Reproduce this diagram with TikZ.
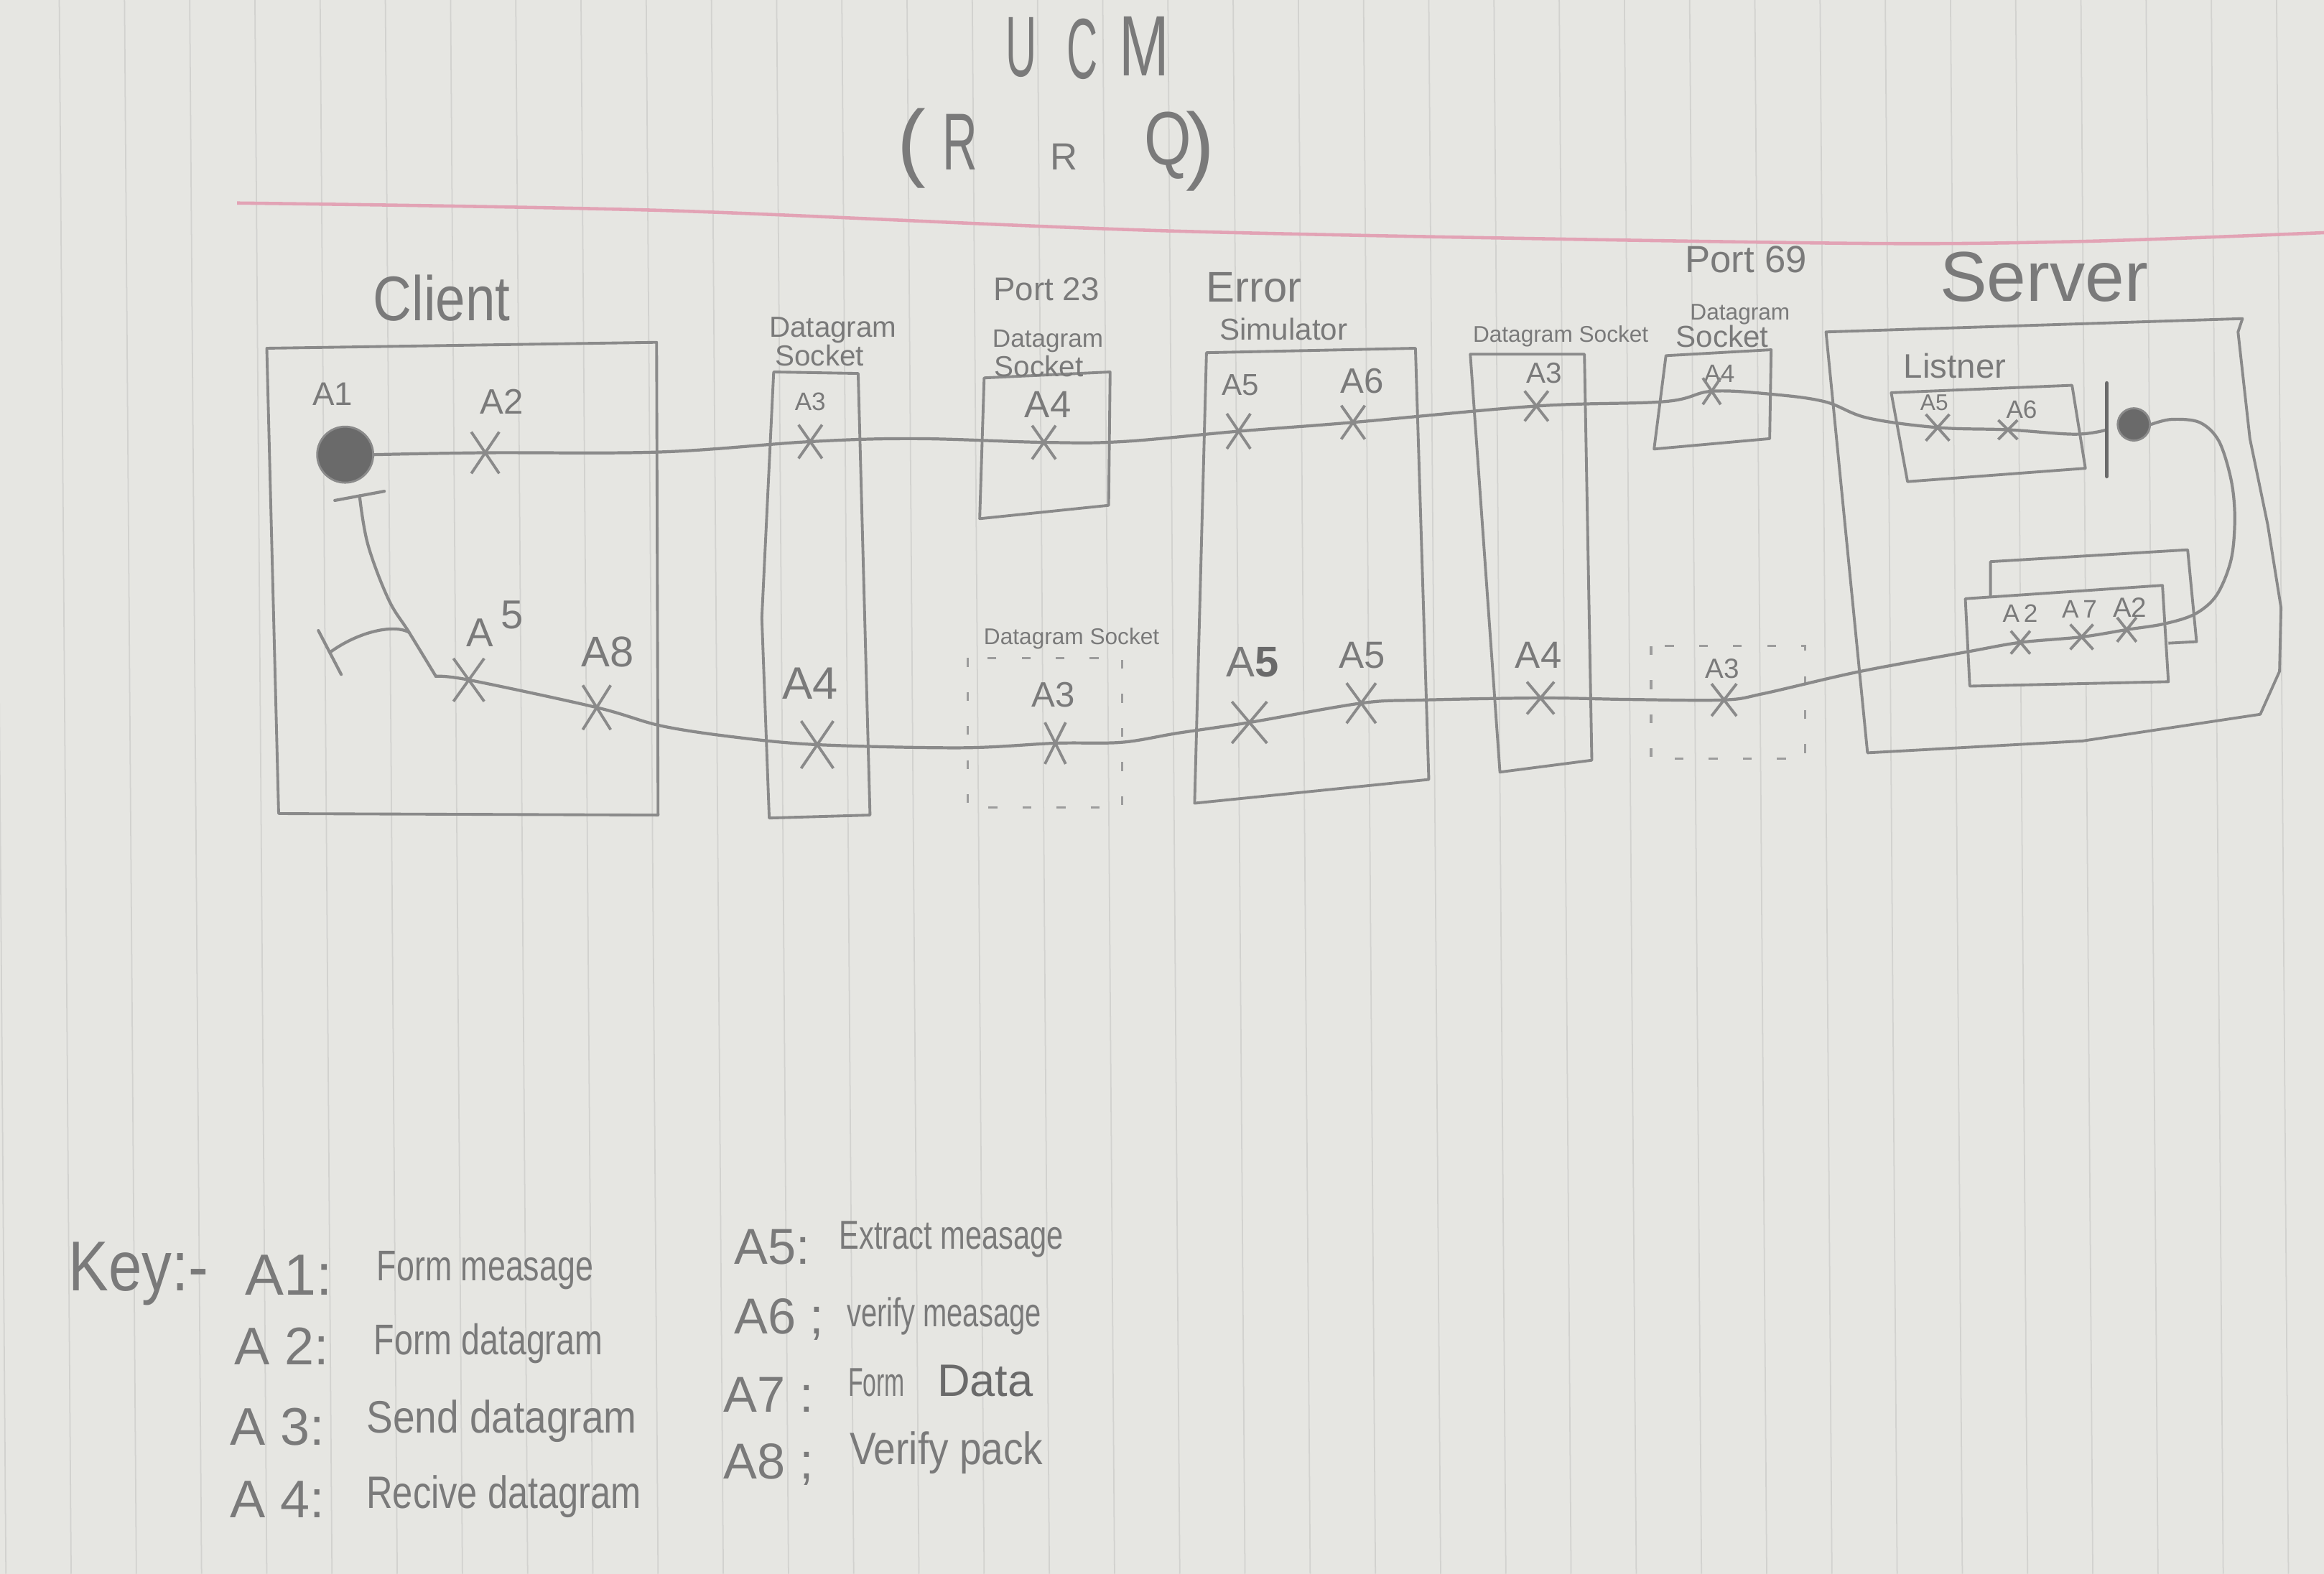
\documentclass[tikz,border=0pt]{standalone}
\usepackage{fontspec}
\setmainfont{Liberation Sans}
\usepackage{graphicx}
\usetikzlibrary{shapes.misc}

\definecolor{paper}{HTML}{E6E6E2}
\definecolor{rulec}{HTML}{D2D2CF}
\definecolor{marginc}{HTML}{E2A3B5}
\definecolor{pencil}{HTML}{8A8A8A}
\definecolor{ink}{HTML}{7A7A7A}
\definecolor{lead}{HTML}{6A6A6A}

\newcommand\penfs[1]{\fontsize{#1}{#1}\selectfont}
\newcommand\narrow[2]{\scalebox{#1}[1]{#2}}

\begin{document}
\begin{tikzpicture}[x=0.020638cm, y=-0.020638cm,
  rule/.style={draw=rulec, line width=0.5pt},
  comp/.style={draw=pencil, line width=1.1pt, line join=round},
  ghost/.style={draw=pencil!85, line width=0.9pt, dash pattern=on 3.5pt off 10pt},
  route/.style={draw=pencil, line width=1.2pt, line cap=round},
  xm/.style 2 args={cross out, draw=pencil, line width=1.1pt,
    minimum width=#1mm, minimum height=#2mm, inner sep=0pt},
  lbl/.style={text=ink, inner sep=0pt},
  keyl/.style={lbl, anchor=base west},
  startpt/.style={circle, fill=lead, draw=pencil, line width=0.8pt, inner sep=0pt},
  endbar/.style={draw=lead, line width=1.5pt, line cap=round}]

% sheet of ruled paper
\path[use as bounding box, fill=paper] (0,0) rectangle (1568,1062);
\foreach \k in {0,...,35} {\draw[rule] ({-4+44*\k},0) -- ({4+44*\k},1062);}
\draw[draw=marginc, line width=1.3pt] plot[smooth] coordinates
  {(160,137) (447,142) (795,156) (1231,164) (1400,163) (1568,157)};

% title
\node[lbl, font=\penfs{34}] (t-u) at (689,32) {\narrow{0.5}{U}};
\node[lbl, font=\penfs{34}] (t-c) at (730,33) {\narrow{0.5}{C}};
\node[lbl, font=\penfs{34}] (t-m) at (772,31) {\narrow{0.7}{M}};
\node[lbl, font=\penfs{34}] (t-lp) at (615,100) {(};
\node[lbl, font=\penfs{32}] (t-r1) at (648,96) {\narrow{0.6}{R}};
\node[lbl, font=\penfs{15}] (t-r2) at (718,106) {R};
\node[lbl, font=\penfs{30}] (t-q) at (788,98) {\narrow{0.8}{Q}};
\node[lbl, font=\penfs{34}] (t-rp) at (810,102) {)};

% components
\draw[comp] (180,235) -- (443,231) -- (444,550) -- (188,549) -- cycle;
\node[lbl, font=\penfs{25}] (l-client) at (298,201) {\narrow{0.85}{Client}};

\draw[comp] (522,251) -- (579,252) -- (587,550) -- (519,552) -- (514,417) -- cycle;
\node[lbl, font=\penfs{11.5}] (l-ds1a) at (562,223) {Datagram};
\node[lbl, font=\penfs{11.5}] (l-ds1b) at (553,240) {Socket};

\draw[comp] (664,255) -- (749,251) -- (748,341) -- (661,350) -- cycle;
\node[lbl, font=\penfs{13}] (l-p23) at (706,195) {Port 23};
\node[lbl, font=\penfs{10}] (l-p23a) at (707,230) {Datagram};
\node[lbl, font=\penfs{11.5}] (l-p23b) at (701,247) {Socket};

\draw[ghost] (653,444) rectangle (757,545);
\node[lbl, font=\penfs{9}] (l-d1) at (723,431) {Datagram Socket};

\draw[comp] (814,238) -- (955,235) -- (964,526) -- (806,542) -- cycle;
\node[lbl, font=\penfs{17}] (l-err) at (846,194) {Error};
\node[lbl, font=\penfs{12}] (l-sim) at (866,222) {Simulator};

\draw[comp] (992,239) -- (1069,239) -- (1074,513) -- (1012,521) -- cycle;
\node[lbl, font=\penfs{9}] (l-ds2) at (1053,227) {Datagram Socket};

\draw[comp] (1124,240) -- (1195,236) -- (1194,296) -- (1116,303) -- cycle;
\node[lbl, font=\penfs{15}] (l-p69) at (1178,175) {Port 69};
\node[lbl, font=\penfs{9}] (l-p69a) at (1174,212) {Datagram};
\node[lbl, font=\penfs{12}] (l-p69b) at (1162,227) {Socket};

\draw[ghost] (1114,436) rectangle (1218,512);

\draw[comp] (1232,224) -- (1513,215) -- (1510,224) -- (1518,296) -- (1530,354)
  -- (1539,410) -- (1538,453) -- (1525,482) -- (1405,500) -- (1260,508) -- cycle;
\node[lbl, font=\penfs{28}] (l-server) at (1379,187) {Server};
\draw[comp] (1276,265) -- (1398,260) -- (1407,316) -- (1287,325) -- cycle;
\node[lbl, font=\penfs{13.5}] (l-listner) at (1319,247) {Listner};
\draw[comp] (1343,404) -- (1343,379) -- (1476,371) -- (1482,433) -- (1463,434);
\draw[comp, fill=paper] (1326,404) -- (1459,395) -- (1463,460) -- (1329,463) -- cycle;

% responsibility labels
\node[lbl, font=\penfs{13}] (l-a1) at (224.5,266) {A1};
\node[lbl, font=\penfs{14}] (l-a2) at (338.6,271) {A2};
\node[lbl, font=\penfs{16}] (l-a5c) at (334,421) {A\hspace{3pt}\raisebox{7pt}{5}};
\node[lbl, font=\penfs{17}] (l-a8) at (410,440) {A8};
\node[lbl, font=\penfs{10}] (l-ds1a3) at (546.7,271) {A3};
\node[lbl, font=\penfs{18}] (l-ds1a4) at (546.7,461) {A4};
\node[lbl, font=\penfs{15}] (l-p23a4) at (707,273) {A4};
\node[lbl, font=\penfs{14}] (l-d1a3) at (710.5,469) {A3};
\node[lbl, font=\penfs{12}] (l-esa5) at (837,260) {A5};
\node[lbl, font=\penfs{14}] (l-esa6) at (919,257) {A6};
\node[lbl, font=\penfs{17}] (l-esl5a) at (845,447) {A{\color{lead}\bfseries 5}};
\node[lbl, font=\penfs{15}] (l-esl5b) at (919,442) {A5};
\node[lbl, font=\penfs{11.5}] (l-ds2a3) at (1042,252) {A3};
\node[lbl, font=\penfs{15}] (l-ds2a4) at (1038,442) {A4};
\node[lbl, font=\penfs{10}] (l-p69a4) at (1160,252) {A4};
\node[lbl, font=\penfs{11}] (l-d2a3) at (1162,451) {A3};
\node[lbl, font=\penfs{9}] (l-la5) at (1305,271.5) {A5};
\node[lbl, font=\penfs{10}] (l-la6) at (1364,276.5) {A6};
\node[lbl, font=\penfs{10}] (l-sa2a) at (1363,413.7) {A\,2};
\node[lbl, font=\penfs{10}] (l-sa7) at (1403,411.3) {A\,7};
\node[lbl, font=\penfs{11}] (l-sa2b) at (1437,410) {A2};

% start points, end points and responsibilities
\node[startpt, minimum size=7.8mm] (s1) at (232.9,306.8) {};
\node[startpt, minimum size=4.5mm] (s2) at (1439.7,286.4) {};
\coordinate (e1) at (1421.5,290);
\coordinate (b1) at (242.6,334.6);
\coordinate (e2) at (222.5,440.3);
\coordinate (j1) at (294.1,456.4);
\coordinate (br) at (276,426.7);

\node[xm={3.5}{5.4}] (x-a2) at (327.4,305.5) {};
\node[xm={2.9}{4.3}] (x-ds1a3) at (546.7,298) {};
\node[xm={2.9}{4.3}] (x-p23a4) at (704.3,298.5) {};
\node[xm={2.9}{4.5}] (x-esa5) at (835.7,291) {};
\node[xm={2.9}{4.3}] (x-esa6) at (912.9,285) {};
\node[xm={2.9}{3.8}] (x-ds2a3) at (1036.6,274) {};
\node[xm={2.1}{3.3}] (x-p69a4) at (1154.9,264) {};
\node[xm={2.9}{3.3}] (x-la5) at (1307.3,288.5) {};
\node[xm={2.3}{2.3}] (x-la6) at (1354.7,290) {};
\node[xm={2.3}{3.0}] (x-a2r) at (1434.9,424.9) {};
\node[xm={2.8}{3.1}] (x-a7) at (1404.5,429.8) {};
\node[xm={2.3}{2.8}] (x-a2l) at (1363.2,433.5) {};
\node[xm={3.1}{4.1}] (x-d2a3) at (1163.2,472.3) {};
\node[xm={3.4}{4.1}] (x-ds2a4) at (1039.4,471) {};
\node[xm={3.7}{5.2}] (x-esl5b) at (918.4,474.5) {};
\node[xm={4.5}{5.4}] (x-esl5a) at (843,487.5) {};
\node[xm={2.5}{5.4}] (x-d1a3) at (712,501.5) {};
\node[xm={4.1}{6.2}] (x-ds1a4) at (551.4,502.5) {};
\node[xm={3.5}{5.8}] (x-a8) at (402.6,477.4) {};
\node[xm={3.9}{5.6}] (x-a5) at (316.3,458.8) {};

% request path: client to server listener
\draw[route] plot[smooth, tension=0.6] coordinates {(s1.east) (x-a2.center)
  (445.7,305) (x-ds1a3.center) (617.8,296) (x-p23a4.center) (757,298)
  (x-esa5.center) (x-esa6.center) (x-ds2a3.center) (1122.9,271)
  (x-p69a4.center) (1195,266) (1231,271) (1260,282) (x-la5.center)
  (x-la6.center) (1400,293) (e1)};
\draw[endbar] ([yshift=-18.5]e1) -- ([yshift=18.5]e1);

% reply path: server back to client
\draw[route] plot[smooth, tension=0.55] coordinates {(s2.east) (1465,283)
  (1484,285) (1497,297.5) (1505.3,323.7) (1507.8,349.4) (1505.3,377.7)
  (1495.6,401.5) (1481,414.3) (1460,421) (x-a2r.center) (x-a7.center)
  (x-a2l.center) (1328,439.7) (1254,453.3) (1190,468) (x-d2a3.center)
  (1100,472) (x-ds2a4.center) (958.7,472.4) (x-esl5b.center)
  (x-esl5a.center) (794.6,494.7) (756.9,500.9) (x-d1a3.center)
  (648.7,504.6) (x-ds1a4.center) (494.2,497.2) (445.7,489.7)
  (x-a8.center) (x-a5.center) (j1)};
\draw[route] plot[smooth, tension=0.6] coordinates {(j1) (br) (262.1,404.4)
  (248.2,367.4) (b1)};
\draw[route] (br) .. controls (266,421) and (242,426) .. (e2);
\draw[endbar, draw=pencil, line width=1.2pt] ([shift={(-16.7,3.1)}]b1) -- ([shift={(16.7,-3.1)}]b1);
\draw[endbar, draw=pencil, line width=1.2pt] ([shift={(-7.7,-14.8)}]e2) -- ([shift={(7.7,14.8)}]e2);

% key
\node[keyl, font=\penfs{28}] (k-head) at (46,871) {\narrow{0.85}{Key:-}};
\node[keyl, font=\penfs{23}] (k-a1) at (165,874) {A1:};
\node[keyl, font=\penfs{17}] (k-a1t) at (254,864) {\narrow{0.75}{Form measage}};
\node[keyl, font=\penfs{21}] (k-a2) at (158,921) {A 2:};
\node[keyl, font=\penfs{17}] (k-a2t) at (252,914) {\narrow{0.78}{Form datagram}};
\node[keyl, font=\penfs{21}] (k-a3) at (155,975) {A 3:};
\node[keyl, font=\penfs{18}] (k-a3t) at (247,967) {\narrow{0.87}{Send datagram}};
\node[keyl, font=\penfs{21}] (k-a4) at (155,1024) {A 4:};
\node[keyl, font=\penfs{18}] (k-a4t) at (247,1018) {\narrow{0.8}{Recive datagram}};
\node[keyl, font=\penfs{20}] (k-a5) at (495,853) {A5:};
\node[keyl, font=\penfs{16}] (k-a5t) at (566,843) {\narrow{0.74}{Extract measage}};
\node[keyl, font=\penfs{20}] (k-a6) at (495,900) {A6 ;};
\node[keyl, font=\penfs{16}] (k-a6t) at (571,895) {\narrow{0.71}{verify measage}};
\node[keyl, font=\penfs{20}] (k-a7) at (488,953) {A7 :};
\node[keyl, font=\penfs{16}] (k-a7t) at (572,942) {\narrow{0.6}{Form}};
\node[keyl, font=\penfs{18}, text=lead] (k-a7d) at (632,942) {Data};
\node[keyl, font=\penfs{20}] (k-a8) at (488,998) {A8 ;};
\node[keyl, font=\penfs{18}] (k-a8t) at (573,988) {\narrow{0.87}{Verify pack}};
\end{tikzpicture}
\end{document}
